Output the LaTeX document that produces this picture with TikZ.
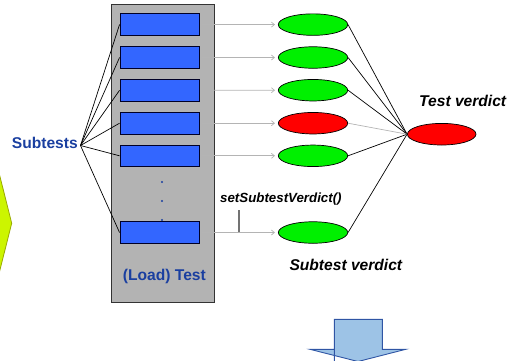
\documentclass[tikz,border=0pt]{standalone}
\usepackage{fontspec}
\setmainfont{Liberation Sans}
\usetikzlibrary{arrows.meta,shapes.geometric}
\definecolor{boxblue}{HTML}{3366FF}
\definecolor{labelblue}{HTML}{1A3FA0}
\definecolor{framegray}{HTML}{B3B3B3}
\definecolor{okgreen}{HTML}{00F000}
\definecolor{failred}{HTML}{FF0000}
\definecolor{linkgray}{HTML}{B4B4B4}
\definecolor{limefill}{HTML}{CCF500}
\definecolor{limeedge}{HTML}{9AAA00}
\definecolor{arrowfill}{HTML}{9DC3E6}
\definecolor{arrowedge}{HTML}{2F55A4}
\tikzset{
  testframe/.style={draw=black!80, line width=0.9pt, fill=framegray, minimum width=103pt, minimum height=298pt, inner sep=0pt},
  subbox/.style={draw=black!85!blue, line width=0.9pt, fill=boxblue, minimum width=79.5pt, minimum height=21.7pt, inner sep=0pt},
  verdict/.style={ellipse, draw=black, line width=0.7pt, minimum width=69.4pt, minimum height=21.5pt, inner sep=0pt},
  pass/.style={verdict, fill=okgreen},
  fail/.style={verdict, fill=failred},
  feed/.style={draw=linkgray, line width=0.7pt, -{Straight Barb[length=3pt,width=5pt]}, shorten <=2pt, shorten >=3pt},
  wire/.style={draw=black, line width=0.7pt},
  bluelabel/.style={text=labelblue, font=\bfseries\fontsize{15.6}{18}\selectfont, inner sep=0pt},
  blacklabel/.style={text=black, font=\bfseries\itshape\fontsize{15.6}{18}\selectfont, inner sep=0pt},
  calllabel/.style={text=black, font=\bfseries\itshape\fontsize{13.3}{16}\selectfont, inner sep=0pt},
  dotmark/.style={circle, fill=labelblue, minimum size=2.4pt, inner sep=0pt},
}
\begin{document}
\begin{tikzpicture}[x=1pt,y=-1pt]
\useasboundingbox (0,0) rectangle (510,360);
\clip (0,0) rectangle (510,360);

% lime chevron at the left edge
\filldraw[fill=limefill, draw=limeedge, line width=0.8pt]
  (-20,97) -- (11.7,223.3) -- (-20,349) -- cycle;

% down arrow at the bottom
\filldraw[fill=arrowfill, draw=arrowedge, line width=0.9pt]
  (334.3,362) -- (334.3,319.3) -- (382.3,319.3) -- (382.3,349.3)
  -- (405.7,349.3) -- (358,361.5) -- (310,349.3) -- (334.3,349.3) -- cycle;

% the (load) test frame with its subtests
\node[testframe] (frame) at (162.5,153) {};
\node[subbox] (s1) at (159.75,24.5) {};
\node[subbox] (s2) at (159.75,57.5) {};
\node[subbox] (s3) at (159.75,90.3) {};
\node[subbox] (s4) at (159.75,123.2) {};
\node[subbox] (s5) at (159.75,155.8) {};
\node[subbox] (s6) at (159.75,232.5) {};
\node[dotmark] (d1) at (162,182) {};
\node[dotmark] (d2) at (162,201) {};
\node[dotmark] (d3) at (162,220) {};
\node[bluelabel, anchor=base west] (loadtest) at (122.7,280) {(Load) Test};

% subtest verdicts
\node[pass] (v1) at (313,24.6) {};
\node[pass] (v2) at (313,57.5) {};
\node[pass] (v3) at (313,90.2) {};
\node[fail] (v4) at (313,123.2) {};
\node[pass] (v5) at (313,155.8) {};
\node[pass] (v6) at (313,232.5) {};

% overall verdict
\node[fail, minimum width=68.6pt, minimum height=21.6pt] (tv) at (441.7,134.2) {};

% labels
\node[bluelabel, anchor=base west] (subtests) at (11.7,148.5) {Subtests};
\coordinate (hub) at (80.5,145.5);
\node[blacklabel, anchor=base west] (tvlabel) at (419,106) {Test verdict};
\node[blacklabel, anchor=base west] (svlabel) at (289.3,270.5) {Subtest verdict};
\node[calllabel, anchor=base west] (call) at (220,202.8) {setSubtestVerdict()};
\coordinate (tickTop) at (239,210);
\coordinate (tickBot) at (239,233);
\draw[draw=black!55, line width=1.2pt] (tickTop) -- (tickBot);

% subtests fan out to their boxes
\foreach \s in {s1,s2,s3,s4,s5,s6}
  \draw[wire] (hub) -- (\s.west);

% each box reports its verdict
\foreach \i in {1,...,6}
  \draw[feed] (s\i.east) -- (v\i.west);

% verdicts combine into the test verdict
\foreach \v in {v1,v2,v3,v5,v6}
  \draw[wire] (\v.east) -- (tv.west);
\draw[draw=linkgray, line width=0.7pt] (v4.east) -- (tv.west);
\end{tikzpicture}
\end{document}
